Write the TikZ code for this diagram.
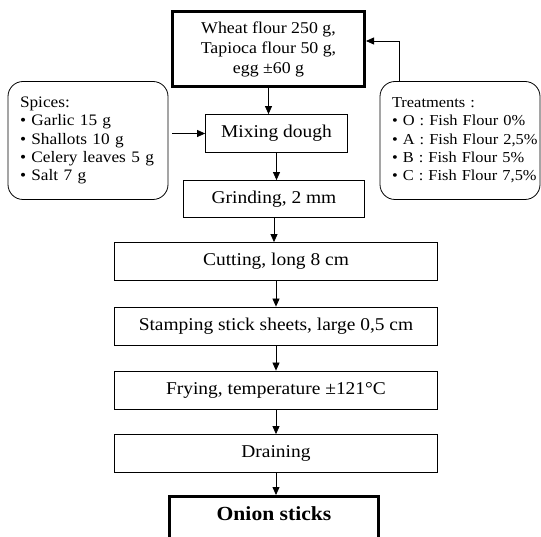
\documentclass[tikz,border=0pt]{standalone}
\usepackage{fontspec}
\setmainfont{Liberation Serif}[FakeStretch=1.08]
\usetikzlibrary{arrows.meta}

\begin{document}
\begin{tikzpicture}[x=1pt, y=1pt]
      \tikzstyle{every node}=[draw, line width=0.8pt, inner sep=0pt, font=\fontsize{18}{20}\selectfont]
      \tikzstyle{wide}=[minimum width=323pt, minimum height=38pt]
      \tikzstyle{side}=[rounded corners=15pt, minimum width=160pt, minimum height=118pt,
        align=left, inner xsep=12pt, text width=136pt, font=\fontsize{16}{18.3}\selectfont]
      \tikzstyle{tip}=[-{Triangle[length=8pt, width=7pt]}, line width=0.8pt]

      \clip (0, 0) rectangle (541, 536);

      \path (268.5, 487) node [line width=3pt, minimum width=192pt, minimum height=75pt, align=center,
        font=\fontsize{16.5}{20}\selectfont] (wheat)
        {Wheat flour 250 g,\\ Tapioca flour 50 g,\\ egg ±60 g};
      \path (276.5, 402.5) node [minimum width=142pt, minimum height=38pt] (mix) {Mixing dough};
      \path (274, 337) node [minimum width=181pt, minimum height=37pt] (grind) {Grinding, 2 mm};
      \path (276, 274.5) node [wide] (cut) {Cutting, long 8 cm};
      \path (276, 210) node [wide] (stamp) {Stamping stick sheets, large 0,5 cm};
      \path (276, 146) node [wide] (fry) {Frying, temperature ±121°C};
      \path (276, 82.5) node [wide] (drain) {Draining};
      \path (274, 41) node [anchor=north, line width=3pt, minimum width=209pt, text height=14pt,
        text depth=40pt, inner ysep=10pt, font=\bfseries\fontsize{20}{22}\selectfont] (onion) {Onion sticks};

      \path (88, 395.5) node [side] (spices)
        {\begin{tabular}{@{}l@{}}
          Spices:\\ • Garlic 15 g\\ • Shallots 10 g\\ • Celery leaves 5 g\\ • Salt 7 g
        \end{tabular}};
      \path (460, 395.5) node [side, font=\fontsize{15.2}{18.3}\selectfont] (treat)
        {\begin{tabular}{@{}l@{}}
          Treatments :\\ • O : Fish Flour 0\%\\ • A : Fish Flour 2,5\%\\ • B : Fish Flour 5\%\\ • C : Fish Flour 7,5\%
        \end{tabular}};

      \foreach \a/\b in {wheat/mix, mix/grind, grind/cut, cut/stamp, stamp/fry, fry/drain, drain/onion}
      {
        \draw [tip] (\a.south) -- (\a.south |- \b.north);
      }

      \draw [tip, shorten <=4pt] (mix.west -| spices.east) -- (mix.west);
      \draw [tip] ([xshift=20pt]treat.north west) |- ([yshift=8pt]wheat.east);
    \end{tikzpicture}
\end{document}
